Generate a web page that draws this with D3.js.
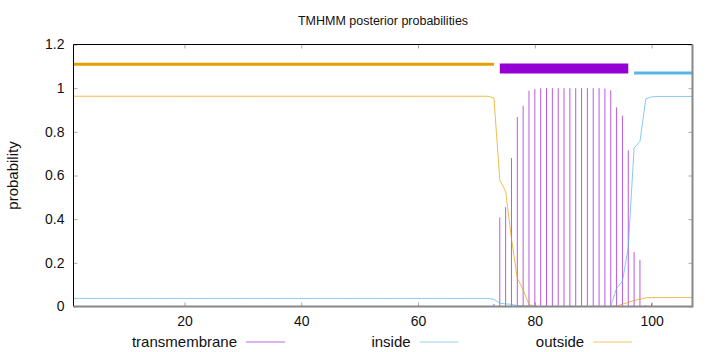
<!DOCTYPE html>
<html>
<head>
<meta charset="utf-8">
<script src="https://cdn.jsdelivr.net/npm/d3@7"></script>
<style>
  body { margin: 0; background: #fff; }
  text { font-family: "Liberation Sans", Arial, sans-serif; }
</style>
</head>
<body>
<div id="chart"></div>
<script>
// posterior probabilities per residue (residue 1..107)
const seqLength = 107;

const tmProb = [
  0, 0, 0, 0, 0, 0, 0, 0, 0, 0, 0, 0, 0, 0, 0, 0, 0, 0,
  0, 0, 0, 0, 0, 0, 0, 0, 0, 0, 0, 0, 0, 0, 0, 0, 0, 0,
  0, 0, 0, 0, 0, 0, 0, 0, 0, 0, 0, 0, 0, 0, 0, 0, 0, 0,
  0, 0, 0, 0, 0, 0, 0, 0, 0, 0, 0, 0, 0, 0, 0, 0, 0, 0,
  0.012, 0.408, 0.455, 0.68, 0.868, 0.919, 0.988, 0.996, 0.999, 1, 1, 1, 1, 1, 1, 1, 1, 1,
  1, 0.998, 0.99, 0.912, 0.874, 0.715, 0.249, 0.214, 0.006, 0.015, 0, 0, 0, 0, 0, 0, 0
];

const insideProb = [
  0.037, 0.037, 0.037, 0.037, 0.037, 0.037, 0.037, 0.037, 0.037, 0.037, 0.037, 0.037, 0.037, 0.037, 0.037, 0.037, 0.037, 0.037,
  0.037, 0.037, 0.037, 0.037, 0.037, 0.037, 0.037, 0.037, 0.037, 0.037, 0.037, 0.037, 0.037, 0.037, 0.037, 0.037, 0.037, 0.037,
  0.037, 0.037, 0.037, 0.037, 0.037, 0.037, 0.037, 0.037, 0.037, 0.037, 0.037, 0.037, 0.037, 0.037, 0.037, 0.037, 0.037, 0.037,
  0.037, 0.037, 0.037, 0.037, 0.037, 0.037, 0.037, 0.037, 0.037, 0.037, 0.037, 0.037, 0.037, 0.037, 0.037, 0.037, 0.037, 0.037,
  0.033, 0.015, 0.012, 0.01, 0.004, 0.003, 0.002, 0, 0, 0, 0, 0, 0, 0, 0, 0, 0, 0,
  0, 0, 0, 0.084, 0.115, 0.27, 0.726, 0.756, 0.951, 0.96, 0.962, 0.962, 0.962, 0.962, 0.962, 0.962, 0.962
];

const outsideProb = [
  0.963, 0.963, 0.963, 0.963, 0.963, 0.963, 0.963, 0.963, 0.963, 0.963, 0.963, 0.963, 0.963, 0.963, 0.963, 0.963, 0.963, 0.963,
  0.963, 0.963, 0.963, 0.963, 0.963, 0.963, 0.963, 0.963, 0.963, 0.963, 0.963, 0.963, 0.963, 0.963, 0.963, 0.963, 0.963, 0.963,
  0.963, 0.963, 0.963, 0.963, 0.963, 0.963, 0.963, 0.963, 0.963, 0.963, 0.963, 0.963, 0.963, 0.963, 0.963, 0.963, 0.963, 0.963,
  0.963, 0.963, 0.963, 0.963, 0.963, 0.963, 0.963, 0.963, 0.963, 0.963, 0.963, 0.963, 0.963, 0.963, 0.963, 0.963, 0.963, 0.963,
  0.955, 0.58, 0.527, 0.31, 0.13, 0.077, 0.01, 0, 0, 0, 0, 0, 0, 0, 0, 0, 0, 0,
  0, 0, 0, 0.003, 0.01, 0.02, 0.027, 0.033, 0.04, 0.041, 0.041, 0.041, 0.041, 0.041, 0.041, 0.041, 0.041
];

// predicted topology
const regionNames = ["outside", "TMhelix", "inside"];
const regionStart = [1, 74, 97];
const regionEnd = [73, 96, 107];

const seriesNames = ["transmembrane", "inside", "outside"];
const xTicks = [20, 40, 60, 80, 100];
const yTicks = [0, 0.2, 0.4, 0.6, 0.8, 1, 1.2];

const seriesColor = { transmembrane: "#9400d3", inside: "#56b4e9", outside: "#e69f00" };
const regionStyle = {
  outside: { level: 1.11, color: "#e69f00", width: 3 },
  TMhelix: { level: 1.09, color: "#9400d3", width: 10 },
  inside: { level: 1.07, color: "#56b4e9", width: 3 }
};

const width = 720, height = 352;
const fontSize = 14;

const svg = d3
  .select("#chart")
  .append("svg")
  .attr("width", width)
  .attr("height", height);

const x = d3.scaleLinear().domain([1, seqLength]).range([73.5, 692.5]);
const y = d3.scaleLinear().domain([0, 1.2]).range([306.5, 44.5]);

// axes (ticks point inward, mirrored on top and right)
function styleAxis(g) {
  g.select(".domain").remove();
  g.selectAll(".tick line").attr("stroke", "#aaa");
  g.selectAll(".tick text")
    .attr("font-size", fontSize)
    .attr("font-family", '"Liberation Sans", Arial, sans-serif')
    .attr("fill", "#111");
}

svg.append("g")
  .attr("transform", "translate(0," + y(0) + ")")
  .call(d3.axisBottom(x).tickValues(xTicks).tickSize(-4).tickPadding(10))
  .call(styleAxis);

svg.append("g")
  .attr("transform", "translate(0," + y(1.2) + ")")
  .call(d3.axisTop(x).tickValues(xTicks).tickSize(-4).tickFormat(""))
  .call(styleAxis);

svg.append("g")
  .attr("transform", "translate(" + x(1) + ",0)")
  .call(d3.axisLeft(y).tickValues(yTicks).tickSize(-4).tickPadding(9).tickFormat((d) => String(d)))
  .call(styleAxis);

svg.append("g")
  .attr("transform", "translate(" + x(seqLength) + ",0)")
  .call(d3.axisRight(y).tickValues(yTicks).tickSize(-4).tickFormat(""))
  .call(styleAxis);

// transmembrane impulses
svg.append("g")
  .selectAll("line")
  .data(tmProb.map((v, i) => ({ pos: i + 1, v: v })).filter((d) => d.v > 0))
  .join("line")
  .attr("x1", (d) => x(d.pos))
  .attr("x2", (d) => x(d.pos))
  .attr("y1", y(0))
  .attr("y2", (d) => y(d.v))
  .attr("stroke", seriesColor.transmembrane)
  .attr("stroke-opacity", 0.65)
  .attr("stroke-width", 1);

const line = d3.line()
  .x((d, i) => x(i + 1))
  .y((d) => y(d));

svg.append("path")
  .attr("d", line(insideProb))
  .attr("fill", "none")
  .attr("stroke", seriesColor.inside)
  .attr("stroke-opacity", 0.7)
  .attr("stroke-width", 1);

svg.append("path")
  .attr("d", line(outsideProb))
  .attr("fill", "none")
  .attr("stroke", seriesColor.outside)
  .attr("stroke-opacity", 0.7)
  .attr("stroke-width", 1);

// topology bars above the curves
svg.append("g")
  .selectAll("line")
  .data(regionNames)
  .join("line")
  .attr("x1", (d, i) => x(regionStart[i]))
  .attr("x2", (d, i) => x(regionEnd[i]))
  .attr("y1", (d) => y(regionStyle[d].level))
  .attr("y2", (d) => y(regionStyle[d].level))
  .attr("stroke", (d) => regionStyle[d].color)
  .attr("stroke-width", (d) => regionStyle[d].width);

// frame
const [x0, x1] = x.range();
const [yb, yt] = y.range();
svg.append("path")
  .attr("d", "M" + x0 + "," + yb + "V" + yt + "H" + x1)
  .attr("fill", "none")
  .attr("stroke", "#000")
  .attr("stroke-width", 1);
svg.append("path")
  .attr("d", "M" + x0 + "," + yb + "H" + x1 + "V" + yt)
  .attr("fill", "none")
  .attr("stroke", "#888")
  .attr("stroke-width", 2);

// title and axis label
svg.append("text")
  .attr("x", (x0 + x1) / 2)
  .attr("y", 25)
  .attr("text-anchor", "middle")
  .attr("font-size", 12.5)
  .attr("fill", "#111")
  .text("TMHMM posterior probabilities");

svg.append("text")
  .attr("transform", "translate(18," + (yb + yt) / 2 + ") rotate(-90)")
  .attr("text-anchor", "middle")
  .attr("font-size", 15)
  .attr("fill", "#111")
  .text("probability");

// legend along the bottom
const legend = svg.append("g")
  .selectAll("g")
  .data(seriesNames)
  .join("g")
  .attr("transform", (d, i) => "translate(" + (237 + i * 173.6) + ",342)");

legend.append("text")
  .attr("text-anchor", "end")
  .attr("dy", "0.35em")
  .attr("font-size", 15)
  .attr("fill", "#111")
  .text((d) => d);

legend.append("line")
  .attr("x1", 9)
  .attr("x2", 48)
  .attr("stroke", (d) => seriesColor[d])
  .attr("stroke-opacity", 0.6)
  .attr("stroke-width", 1);
</script>
</body>
</html>
